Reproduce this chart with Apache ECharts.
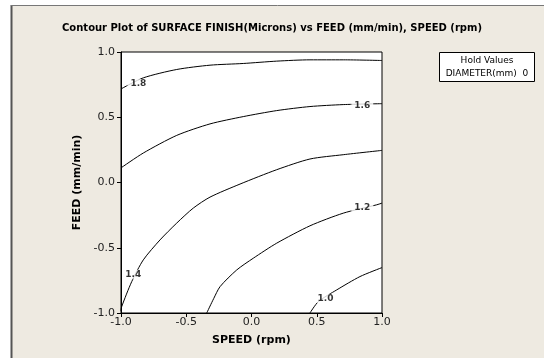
<!DOCTYPE html>
<html><head><meta charset="utf-8">
<script src="https://cdn.jsdelivr.net/npm/echarts@6/dist/echarts.min.js"></script>
<style>html,body{margin:0;padding:0;background:#fff;overflow:hidden}#c{width:544px;height:358px}</style>
</head><body><div id="c"></div>
<script>
const xTicks = [-1.0, -0.5, 0.0, 0.5, 1.0];
const yTicks = [-1.0, -0.5, 0.0, 0.5, 1.0];
const levels = ['1.8', '1.6', '1.4', '1.2', '1.0'];
const c18 = [[-1,0.717],[-0.829,0.802],[-0.573,0.866],[-0.318,0.899],[-0.063,0.912],[0.193,0.930],[0.448,0.940],[0.703,0.940],[1,0.935]];
const c16 = [[-1,0.112],[-0.829,0.226],[-0.573,0.361],[-0.318,0.449],[-0.063,0.505],[0.193,0.551],[0.448,0.582],[0.703,0.597],[1,0.604]];
const c14 = [[-1,-0.985],[-0.995,-0.952],[-0.918,-0.760],[-0.829,-0.593],[-0.701,-0.440],[-0.573,-0.311],[-0.446,-0.196],[-0.318,-0.112],[-0.088,-0.012],[0.193,0.098],[0.448,0.180],[0.703,0.213],[1,0.246]];
const c12 = [[-0.343,-1],[-0.290,-0.890],[-0.241,-0.798],[-0.113,-0.670],[0.014,-0.580],[0.193,-0.465],[0.448,-0.332],[0.703,-0.235],[0.959,-0.171],[1,-0.158]];
const c10 = [[0.448,-1],[0.512,-0.913],[0.653,-0.823],[0.831,-0.721],[1,-0.652]];
const contours = [c18, c16, c14, c12, c10];
const labelPos = [[-0.867,0.758],[0.849,0.589],[-0.906,-0.703],[0.849,-0.191],[0.567,-0.887]];
const holdTitle = 'Hold Values';
const holdRow = 'DIAMETER(mm)  0';

const chart = echarts.init(document.getElementById('c'));
const F = 'Tahoma, "DejaVu Sans", Verdana, sans-serif';
const series = contours.map((d, i) => ({
  type: 'line', data: d, showSymbol: false, smooth: 0.25, silent: true,
  lineStyle: {color: '#000', width: 1}, z: 2
}));
series.push({
  type: 'scatter', symbolSize: 0, z: 5, silent: true,
  data: labelPos.map((p, i) => ({value: p, name: levels[i]})),
  label: {show: true, position: 'inside', formatter: p => p.name, color: '#000',
    fontFamily: F, fontSize: 9, fontWeight: 'bold', backgroundColor: '#fff', padding: [0, 3]}
});
chart.setOption({
  animation: false,
  backgroundColor: '#fff',
  graphic: [
    {type: 'rect', shape: {x: 11, y: 5, width: 533, height: 353}, style: {fill: '#EEEAE1'}, z: -10},
    {type: 'line', shape: {x1: 11.5, y1: 5, x2: 11.5, y2: 358}, style: {stroke: '#555', lineWidth: 2}, z: -9},
    {type: 'line', shape: {x1: 11, y1: 5.5, x2: 544, y2: 5.5}, style: {stroke: '#777', lineWidth: 1}, z: -9},
    {type: 'text', left: 'center', top: 23, style: {text: 'Contour Plot of SURFACE FINISH(Microns) vs FEED (mm/min), SPEED (rpm)', font: 'bold 10px ' + F, fill: '#000'}},
    {type: 'rect', shape: {x: 439.5, y: 52.5, width: 95, height: 29}, style: {fill: '#fff', stroke: '#000', lineWidth: 1}},
    {type: 'text', x: 487, y: 61, style: {text: holdTitle, font: '9px ' + F, fill: '#000', align: 'center', verticalAlign: 'middle'}},
    {type: 'text', x: 487, y: 74, style: {text: holdRow, font: '9px ' + F, fill: '#000', align: 'center', verticalAlign: 'middle'}}
  ],
  grid: {left: 121, top: 52, width: 261, height: 261, show: true, backgroundColor: '#fff', borderColor: '#000', borderWidth: 1},
  xAxis: {type: 'value', min: -1, max: 1, interval: 0.5, name: 'SPEED (rpm)', nameLocation: 'middle', nameGap: 22,
    nameTextStyle: {fontFamily: F, fontSize: 11, fontWeight: 'bold', color: '#000'},
    axisLine: {onZero: false, lineStyle: {color: '#000'}}, axisTick: {length: 4, lineStyle: {color: '#000'}},
    splitLine: {show: false},
    axisLabel: {fontFamily: F, fontSize: 11, color: '#222', margin: 4, formatter: v => v.toFixed(1)}},
  yAxis: {type: 'value', min: -1, max: 1, interval: 0.5, name: 'FEED (mm/min)', nameLocation: 'middle', nameGap: 38,
    nameTextStyle: {fontFamily: F, fontSize: 11, fontWeight: 'bold', color: '#000'},
    axisLine: {onZero: false, lineStyle: {color: '#000'}}, axisTick: {length: 4, lineStyle: {color: '#000'}},
    splitLine: {show: false},
    axisLabel: {fontFamily: F, fontSize: 11, color: '#222', margin: 6, formatter: v => v.toFixed(1)}},
  series: series
});
</script></body></html>
